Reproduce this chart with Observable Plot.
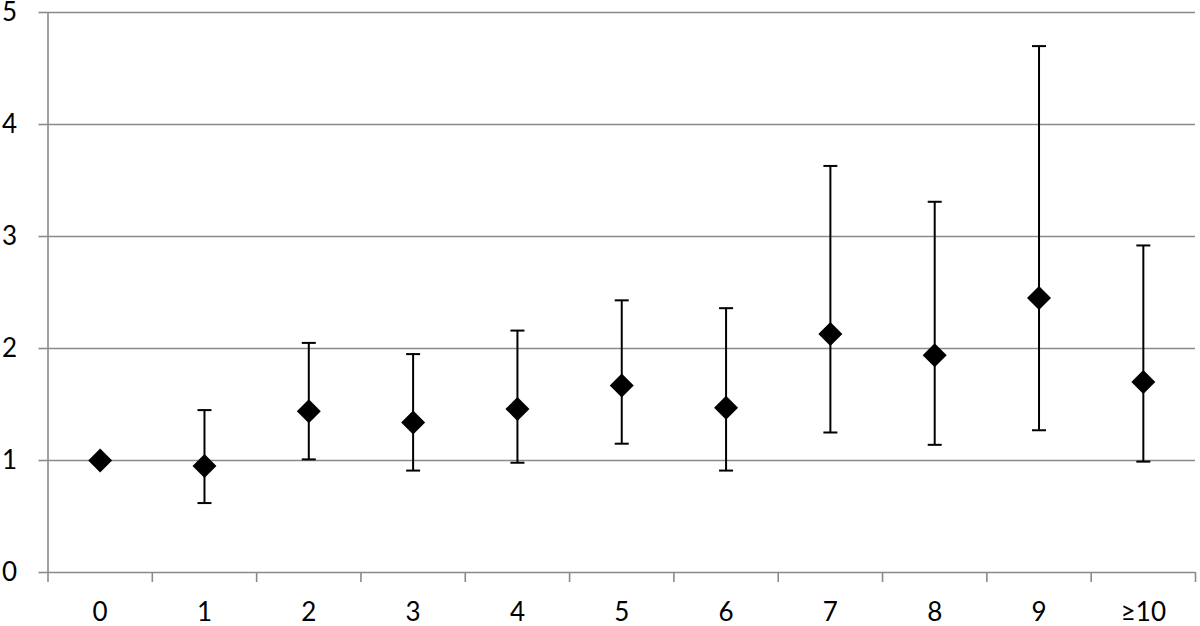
<!DOCTYPE html>
<html>
<head>
<meta charset="utf-8">
<script src="https://cdn.jsdelivr.net/npm/d3@7"></script>
<script src="https://cdn.jsdelivr.net/npm/@observablehq/plot@0.6"></script>
<style>
  html, body { margin: 0; padding: 0; background: #fff; }
  #chart svg { display: block; }
  #chart svg text { font-family: Lato, 'Open Sans', sans-serif; font-size: 26px; fill: #000; }
</style>
</head>
<body>
<div id="chart"></div>
<script>
const categories = ["0", "1", "2", "3", "4", "5", "6", "7", "8", "9", "≥10"];
const estimates  = [1.00, 0.95, 1.44, 1.34, 1.46, 1.67, 1.47, 2.13, 1.94, 2.45, 1.70];
const ciLower    = [null, 0.62, 1.01, 0.91, 0.98, 1.15, 0.91, 1.25, 1.14, 1.27, 0.99];
const ciUpper    = [null, 1.45, 2.05, 1.95, 2.16, 2.43, 2.36, 3.63, 3.31, 4.70, 2.92];
const yTicks     = [0, 1, 2, 3, 4, 5];

const rows = categories.map((c, i) => ({
  cat: c, pos: i + 0.5, est: estimates[i], lo: ciLower[i], hi: ciUpper[i]
}));
const withCI = rows.filter(d => d.lo != null && d.hi != null);

const grey = "#8a8a8a";

const capSymbol = {
  draw(context, size) {
    const h = Math.sqrt(size / Math.PI);
    context.moveTo(-h, 0);
    context.lineTo(h, 0);
  }
};

const chart = Plot.plot({
  width: 1200,
  height: 626,
  marginLeft: 47.5,
  marginRight: 5,
  marginTop: 12,
  marginBottom: 54,
  style: { fontFamily: "Lato, sans-serif", fontSize: "26px", color: "#000", background: "#fff" },
  x: { type: "linear", domain: [0, categories.length] },
  y: { domain: [0, 5] },
  marks: [
    Plot.gridY(yTicks.filter(t => t > 0), { stroke: grey, strokeOpacity: 1, strokeWidth: 1.6 }),
    Plot.axisY(yTicks, {
      tickSize: 9, tickPadding: 22, stroke: grey, strokeWidth: 1.6,
      fill: "#000", fontSize: 26, tickFormat: d => String(d), label: null
    }),
    Plot.axisX(d3.range(categories.length + 1), {
      tickSize: 10, stroke: grey, strokeWidth: 1.6, tickFormat: () => "", label: null
    }),
    Plot.axisX(rows.map(d => d.pos), {
      tickSize: 0, tickPadding: 30, fill: "#000", fontSize: 26,
      tickFormat: (d, i) => categories[i], label: null
    }),
    Plot.ruleY([0], { stroke: grey, strokeWidth: 1.6 }),
    Plot.ruleX([0], { stroke: grey, strokeWidth: 1.6 }),
    Plot.ruleX(withCI, { x: "pos", y1: "lo", y2: "hi", stroke: "#000", strokeWidth: 2 }),
    Plot.dot(withCI, { x: "pos", y: "lo", symbol: capSymbol, r: 7, stroke: "#000", strokeWidth: 2, fill: "none" }),
    Plot.dot(withCI, { x: "pos", y: "hi", symbol: capSymbol, r: 7, stroke: "#000", strokeWidth: 2, fill: "none" }),
    Plot.dot(rows, { x: "pos", y: "est", symbol: "diamond2", r: 10.8, fill: "#000", stroke: "none" })
  ]
});

document.getElementById("chart").appendChild(chart);
</script>
</body>
</html>
